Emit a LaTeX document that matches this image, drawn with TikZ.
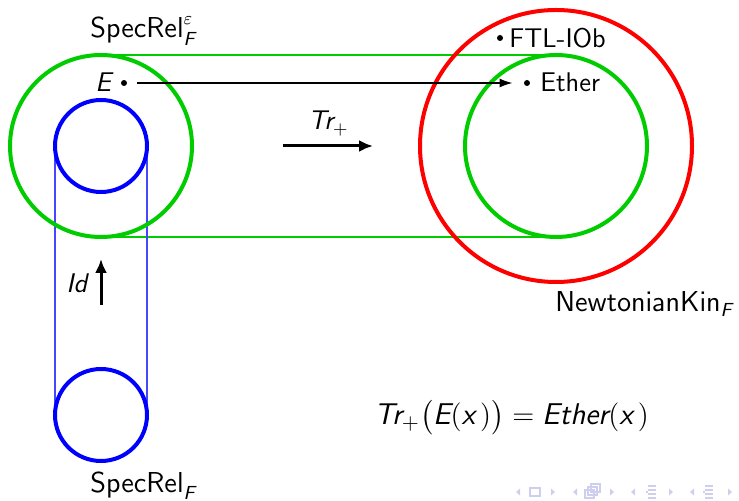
\documentclass[tikz,border=0pt]{standalone}
\usepackage{amsmath}
\usetikzlibrary{arrows.meta}
\newcommand{\si}[1]{\text{\sffamily\itshape #1}}
\definecolor{mygreen}{RGB}{0,204,0}
\definecolor{myblue}{RGB}{70,70,255}
\definecolor{navc}{RGB}{206,206,238}
\begin{document}
\begin{tikzpicture}[x=0.5pt,y=-0.5pt,
  ring/.style={circle, draw, line width=2pt, inner sep=0pt, outer sep=0pt},
  dot/.style={circle, fill, inner sep=0pt, minimum size=3pt},
  lbl/.style={inner sep=0pt, font=\sffamily\fontsize{13.5}{16}\selectfont},
  thinline/.style={line width=0.6pt},
  bigarrow/.style={line width=1.5pt, -{Latex[length=7pt,width=6pt]}},
  navtri/.style={fill=navc, draw=none},
  navbox/.style={draw=navc, line width=0.6pt}]
\useasboundingbox (0,0) rectangle (739,501);
% thin connectors
\coordinate (gtl) at (101,55);
\coordinate (gtr) at (556,55);
\coordinate (gbl) at (101,237);
\coordinate (gbr) at (556,237);
\draw[thinline, draw=mygreen] (gtl) -- (gtr);
\draw[thinline, draw=mygreen] (gbl) -- (gbr);
\coordinate (btl) at (55,146);
\coordinate (bbl) at (55,415);
\coordinate (btr) at (147,146);
\coordinate (bbr) at (147,415);
\draw[thinline, draw=myblue] (btl) -- (bbl);
\draw[thinline, draw=myblue] (btr) -- (bbr);
% circles (as nodes)
\node[ring, draw=mygreen, minimum size=91pt] (srg) at (101,146) {};
\node[ring, draw=blue, minimum size=46pt] (srb) at (101,146) {};
\node[ring, draw=blue, minimum size=46pt] (sr) at (101,415) {};
\node[ring, draw=red, minimum size=136pt] (nk) at (556,146) {};
\node[ring, draw=mygreen, minimum size=91pt] (nkg) at (556,146) {};
% dots
\node[dot] (e) at (124,83) {};
\node[dot] (eth) at (527,83) {};
\node[dot] (ftl) at (500,38) {};
% labels
\node[lbl, anchor=base west] (elbl) at (95,92) {\itshape E};
\node[lbl, anchor=base west] (ethlbl) at (540,92) {Ether};
\node[lbl, anchor=base west] (ftllbl) at (509,48) {FTL-IOb};
\node[lbl, anchor=base west] (srlbl) at (90,38) {$\mathsf{SpecRel}^{\varepsilon}_{\si{F}}$};
\node[lbl, anchor=base west] (srflbl) at (90,493) {$\mathsf{SpecRel}_{\si{F}}$};
\node[lbl, anchor=base west] (nklbl) at (555,312) {$\mathsf{NewtonianKin}_{\si{F}}$};
\node[lbl, anchor=base west] (trlbl) at (308,130) {$\si{Tr}_{+}$};
\node[lbl, anchor=base west] (idlbl) at (66,293) {\itshape Id};
\node[lbl, font=\sffamily\fontsize{15}{18}\selectfont, anchor=base west] (formula) at (374,425) {$\si{Tr}_{+}\bigl(\si{E}(\si{x\,})\bigr) = \si{Ether}(\si{x\,})$};
% arrows
\draw[line width=0.8pt, -{Latex[length=6.5pt,width=4.5pt]}, shorten <=5pt, shorten >=5.5pt] (e) -- (eth);
\coordinate (tra) at (283,146);
\coordinate (trb) at (373,146);
\draw[bigarrow] (tra) -- (trb);
\coordinate (ida) at (101,305);
\coordinate (idb) at (101,259);
\draw[bigarrow] (ida) -- (idb);
% navigation symbols
\foreach \x in {518,575,633,692} {
  \fill[navtri] (\x-2,492) -- (\x+2,488.5) -- (\x+2,495.5) -- cycle;
}
\foreach \x in {553,612,671,730} {
  \fill[navtri] (\x+2,492) -- (\x-2,488.5) -- (\x-2,495.5) -- cycle;
}
\draw[navbox] (530,488) rectangle (540,496);
\draw[navbox] (585,490) rectangle (594,498);
\draw[navbox] (588,487) rectangle (597,495);
\draw[navbox] (591,484) rectangle (600,492);
\foreach \x in {652,709} {
  \draw[navbox] (\x-4,486) -- (\x+4,486);
  \draw[navbox] (\x-4,490) -- (\x+4,490);
  \draw[navbox] (\x-4,494) -- (\x+4,494);
  \draw[navbox] (\x-4,498) -- (\x+4,498);
  \draw[navbox] (\x-6,492) -- (\x-4,492);
}
\end{tikzpicture}
\end{document}
